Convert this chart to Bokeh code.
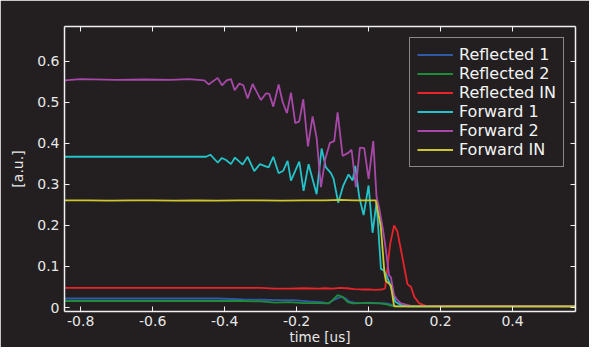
from bokeh.plotting import figure
from bokeh.models import (LinearAxis, FixedTicker, CustomJSTickFormatter, Legend,
                          LegendItem, Range1d)
from bokeh.embed import file_html
from bokeh.resources import INLINE

# ---------------- data ----------------
x_ticks = [-0.8, -0.6, -0.4, -0.2, 0.0, 0.2, 0.4]
y_ticks = [0.0, 0.1, 0.2, 0.3, 0.4, 0.5, 0.6]

t_ref1 = [-0.845, -0.60, -0.42, -0.35, -0.30, -0.25, -0.21, -0.165, -0.13, -0.114,
          -0.095, -0.077, -0.065, -0.054, -0.04, -0.026, 0.0, 0.03, 0.05, 0.067, 0.08, 0.575]
ref1 = [0.022, 0.022, 0.022, 0.020, 0.019, 0.018, 0.018, 0.015, 0.013, 0.010,
        0.019, 0.026, 0.023, 0.015, 0.012, 0.011, 0.012, 0.011, 0.010, 0.006, 0.003, 0.003]

t_ref2 = [-0.845, -0.35, -0.30, -0.26, -0.22, -0.18, -0.14, -0.11, -0.098, -0.086,
          -0.072, -0.058, -0.045, -0.02, 0.0, 0.03, 0.05, 0.065, 0.075, 0.575]
ref2 = [0.016, 0.016, 0.015, 0.012, 0.013, 0.011, 0.011, 0.010, 0.020, 0.030,
        0.026, 0.013, 0.010, 0.011, 0.011, 0.010, 0.008, 0.004, 0.003, 0.003]

t_refin = [-0.845, -0.40, -0.30, -0.26, -0.22, -0.18, -0.14, -0.12, -0.10, -0.08,
           -0.06, -0.04, -0.02, 0.0, 0.02, 0.039, 0.046, 0.060, 0.071, 0.080, 0.094,
           0.108, 0.118, 0.127, 0.141, 0.159, 0.175, 0.575]
refin = [0.048, 0.048, 0.048, 0.046, 0.046, 0.047, 0.046, 0.047, 0.046, 0.048,
         0.047, 0.045, 0.044, 0.044, 0.043, 0.044, 0.047, 0.155, 0.200, 0.185, 0.122,
         0.057, 0.050, 0.026, 0.010, 0.004, 0.003, 0.003]

t_fwd1 = [-0.845, -0.4518, -0.4398, -0.4194, -0.4074, -0.3963, -0.3824, -0.3713, -0.3500,
          -0.3361, -0.3176, -0.3019, -0.2898, -0.2778, -0.2648, -0.2500, -0.2370, -0.2250,
          -0.2157, -0.1926, -0.1806, -0.1667, -0.1444, -0.1306, -0.1185, -0.1046, -0.0972,
          -0.0843, -0.0704, -0.0556, -0.0444, -0.0370, -0.0259, -0.0139, 0.0000, 0.0111,
          0.0222, 0.0343, 0.0435, 0.0574, 0.0741, 0.0898, 0.110, 0.575]
fwd1 = [0.367, 0.367, 0.372, 0.353, 0.364, 0.359, 0.349, 0.365, 0.348,
        0.367, 0.332, 0.349, 0.345, 0.341, 0.367, 0.327, 0.333, 0.357,
        0.309, 0.355, 0.284, 0.349, 0.276, 0.387, 0.341, 0.327, 0.313,
        0.255, 0.297, 0.324, 0.309, 0.345, 0.269, 0.225, 0.297, 0.182,
        0.257, 0.094, 0.090, 0.062, 0.014, 0.006, 0.003, 0.003]

t_fwd2 = [-0.845, -0.80, -0.70, -0.62, -0.55, -0.50, -0.4565, -0.4444, -0.4194, -0.4074,
          -0.3944, -0.3824, -0.3722, -0.3593, -0.3481, -0.3361, -0.3222, -0.2991, -0.2852,
          -0.2759, -0.2648, -0.2500, -0.2389, -0.2268, -0.2157, -0.2037, -0.1926, -0.1815,
          -0.1685, -0.1556, -0.1444, -0.1324, -0.1204, -0.1074, -0.0954, -0.0861, -0.0722,
          -0.0556, -0.0472, -0.0352, -0.0241, -0.0120, 0.0000, 0.0130, 0.0222, 0.030,
          0.040, 0.048, 0.057, 0.062, 0.071, 0.080, 0.090, 0.118, 0.575]
fwd2 = [0.553, 0.556, 0.554, 0.555, 0.554, 0.556, 0.553, 0.543, 0.559, 0.541,
        0.553, 0.556, 0.529, 0.545, 0.541, 0.509, 0.544, 0.505, 0.521,
        0.520, 0.489, 0.543, 0.501, 0.473, 0.523, 0.449, 0.453, 0.507,
        0.392, 0.465, 0.413, 0.293, 0.361, 0.401, 0.405, 0.475, 0.369,
        0.377, 0.384, 0.293, 0.389, 0.388, 0.313, 0.405, 0.269, 0.240,
        0.190, 0.141, 0.078, 0.074, 0.030, 0.018, 0.010, 0.004, 0.003]

t_fwdin = [-0.845, -0.78, -0.72, -0.66, -0.60, -0.54, -0.48, -0.42, -0.36, -0.30, -0.24,
           -0.18, -0.12, -0.08, -0.04, 0.0, 0.020, 0.034, 0.044, 0.048, 0.062, 0.071, 0.575]
fwdin = [0.261, 0.261, 0.260, 0.261, 0.261, 0.260, 0.261, 0.260, 0.261, 0.261, 0.260,
         0.261, 0.261, 0.262, 0.261, 0.261, 0.261, 0.197, 0.085, 0.065, 0.054, 0.003, 0.003]

series_names = ["Reflected 1", "Reflected 2", "Reflected IN", "Forward 1", "Forward 2", "Forward IN"]
x_title = "time [us]"
y_title = "[a.u.]"

# ---------------- styling ----------------
BG = "#231f20"
FG = "#e8e8e8"
FONT = "DejaVu Sans"
colors = ["#2e5aa8", "#1f8c3a", "#e8232a", "#22c3c9", "#a848a8", "#cdc72e"]

p = figure(width=589, height=347, output_backend="svg", toolbar_location=None,
           x_range=Range1d(-0.845, 0.575), y_range=Range1d(-0.0096, 0.684),
           min_border_left=64, min_border_right=14, min_border_top=26, min_border_bottom=32,
           background_fill_color=BG, border_fill_color=BG, outline_line_color=None,
           x_axis_location=None, y_axis_location=None)
p.xgrid.visible = False
p.ygrid.visible = False

fmt = CustomJSTickFormatter(code="return Math.abs(tick) < 1e-9 ? '0' : tick.toFixed(1);")


def style_axis(ax, ticks, show_labels):
    ax.ticker = FixedTicker(ticks=ticks)
    ax.axis_line_color = "#f0f0f0"
    ax.axis_line_width = 1.5
    ax.major_tick_line_color = "#f0f0f0"
    ax.major_tick_line_width = 1
    ax.major_tick_in = 5
    ax.major_tick_out = 0
    ax.minor_tick_line_color = None
    ax.major_label_text_font = FONT
    if show_labels:
        ax.formatter = fmt
        ax.major_label_text_color = FG
        ax.major_label_text_font_size = "14px"
    else:
        ax.major_label_text_color = None
        ax.major_label_text_font_size = "1px"
        ax.major_label_standoff = 0
    ax.axis_label_text_color = FG
    ax.axis_label_text_font = FONT
    ax.axis_label_text_font_size = "14px"
    ax.axis_label_text_font_style = "normal"


xb = LinearAxis(axis_label=x_title)
style_axis(xb, x_ticks, True)
xb.major_label_standoff = 4
xb.axis_label_standoff = 0
xb.axis_label_text_font_size = "13.5px"
p.add_layout(xb, "below")

xt = LinearAxis()
style_axis(xt, x_ticks, False)
p.add_layout(xt, "above")

yl = LinearAxis(axis_label=y_title)
style_axis(yl, y_ticks, True)
yl.major_label_standoff = 5
yl.axis_label_standoff = 8
p.add_layout(yl, "left")

yr = LinearAxis()
style_axis(yr, y_ticks, False)
p.add_layout(yr, "right")

all_t = [t_ref1, t_ref2, t_refin, t_fwd1, t_fwd2, t_fwdin]
all_v = [ref1, ref2, refin, fwd1, fwd2, fwdin]
items = []
for name, tt, vv, c in zip(series_names, all_t, all_v, colors):
    r = p.line(tt, vv, line_color=c, line_width=1.8)
    items.append(LegendItem(label=name, renderers=[r]))

legend = Legend(items=items, location="top_right")
legend.background_fill_color = BG
legend.background_fill_alpha = 1
legend.border_line_color = "#f0f0f0"
legend.border_line_width = 1.5
legend.label_text_color = "#f4f4f4"
legend.label_text_font = FONT
legend.label_text_font_size = "16px"
legend.glyph_width = 36
legend.glyph_height = 19
legend.label_height = 19
legend.label_standoff = 6
legend.spacing = 0
legend.padding = 7
legend.margin = 11
p.add_layout(legend)

open("out.html", "w").write(file_html(p, INLINE))
